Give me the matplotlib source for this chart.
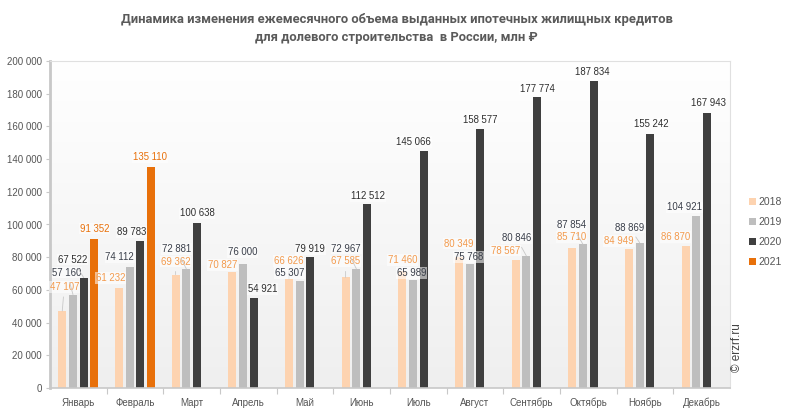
import numpy as np
import matplotlib
matplotlib.use("Agg")
import matplotlib.pyplot as plt
from matplotlib.ticker import FuncFormatter, FixedLocator
from matplotlib.colors import LinearSegmentedColormap
from matplotlib.patches import Patch

months = ["Январь", "Февраль", "Март", "Апрель", "Май", "Июнь", "Июль",
          "Август", "Сентябрь", "Октябрь", "Ноябрь", "Декабрь"]
years = ["2018", "2019", "2020", "2021"]
v2018 = [47107, 61232, 69362, 70827, 66626, 67585, 71460, 80349, 78567, 85710, 84949, 86870]
v2019 = [57160, 74112, 72881, 76000, 65307, 72967, 65989, 75768, 80846, 87854, 88869, 104921]
v2020 = [67522, 89783, 100638, 54921, 79919, 112512, 145066, 158577, 177774, 187834, 155242, 167943]
v2021 = [91352, 135110]
series = [v2018, v2019, v2020, v2021]

# label offsets in pixels (dx, dy) relative to bar top
off2018 = [(2, 24), (-8, 10), (0, 13), (-10, 7), (0, 18), (0, 16), (0, 11), (0, 13), (-10, 9), (-1, 11), (-10, 8), (-10, 9)]
off2019 = [(-6, 22), (-10, 10), (-10, 20), (0, 12), (-10, 8), (-10, 20), (-1, 7), (-1, 7), (-10, 18), (-11, 19), (-10, 15), (-12, 9)]
off2020 = [(-11, 18), (-9, 9), (0, 10), (9, 9), (0, 8), (1, 8), (-10, 9), (0, 9), (0, 8), (-1, 9), (1, 10), (1, 10)]
off2021 = [(0, 10), (-1, 10)]
offsets = [off2018, off2019, off2020, off2021]

bar_colors = ["#fdd3b0", "#bebebe", "#3f3f3f", "#e8700a"]
label_colors = ["#f39a4c", "#3a3f4a", "#2e2e2e", "#e8700a"]

W, H = 793, 415
fig = plt.figure(figsize=(W / 100, H / 100), dpi=100)
ax = fig.add_axes([50 / W, (H - 388) / H, 680 / W, 327 / H])

# gradient background
grad = np.linspace(0, 1, 256).reshape(-1, 1)
cmap = LinearSegmentedColormap.from_list("bg", ["#efefef", "#ffffff"])
ax.imshow(grad, aspect="auto", cmap=cmap, extent=(-0.5, 11.5, 0, 200000),
          origin="lower", zorder=0)

slot = 0.189
bw = 0.141
x = np.arange(len(months))
for j, vals in enumerate(series):
    xs = x[:len(vals)] + (j - 1.5) * slot
    ax.bar(xs, vals, width=bw, color=bar_colors[j], edgecolor="none", zorder=2)

for j, vals in enumerate(series):
    xs = x[:len(vals)] + (j - 1.5) * slot
    for k, (xx, vv) in enumerate(zip(xs, vals)):
        dx, dy = offsets[j][k]
        txt = f"{vv:,}".replace(",", " ")
        arrow = None
        if dy >= 13:
            arrow = dict(arrowstyle="-", color="#c8c8c8", lw=0.6, shrinkA=3, shrinkB=0)
        ax.annotate(txt, xy=(xx, vv), xytext=(dx * 0.72, dy * 0.72), textcoords="offset points",
                    ha="center", va="center", fontsize=6.9, color=label_colors[j],
                    family="Liberation Sans", zorder=5, arrowprops=arrow,
                    bbox=dict(boxstyle="square,pad=0.08", fc="white", ec="none", alpha=0.55))

ax.set_xlim(-0.5, 11.5)
ax.set_ylim(0, 200000)
ax.set_yticks(np.arange(0, 200001, 20000))
ax.yaxis.set_major_formatter(FuncFormatter(lambda v, p: f"{int(v):,}".replace(",", " ")))
ax.set_xticks(x)
ax.set_xticklabels(months)
ax.xaxis.set_minor_locator(FixedLocator(np.arange(0.5, 11.5, 1.0)))
ax.tick_params(axis="x", which="major", length=0, pad=7, labelsize=7, labelcolor="#555555")
ax.tick_params(axis="x", which="minor", length=4, color="#c8c8c8", width=0.8)
ax.tick_params(axis="y", length=3, color="#c8c8c8", labelsize=7, labelcolor="#555555", pad=3)
for lab in ax.get_xticklabels() + ax.get_yticklabels():
    lab.set_family("Liberation Sans")

for side in ["top", "right"]:
    ax.spines[side].set_color("#e0e0e0")
    ax.spines[side].set_linewidth(0.8)
ax.spines["left"].set_color("#c8c8c8")
ax.spines["left"].set_linewidth(2)
ax.spines["bottom"].set_color("#c8c8c8")
ax.spines["bottom"].set_linewidth(1.2)

# legend
handles = [Patch(facecolor=c, edgecolor="none") for c in bar_colors]
leg = fig.legend(handles, years, loc="upper left", bbox_to_anchor=(746 / W, 1 - 194 / H),
                 frameon=False, handlelength=0.65, handleheight=0.65, handletextpad=0.25,
                 labelspacing=0.95, borderaxespad=0, borderpad=0.3,
                 prop=dict(family="Liberation Sans", size=7.5))
for t in leg.get_texts():
    t.set_color("#555555")

fig.text(0.5, 1 - 20 / H, "Динамика изменения ежемесячного объема выданных ипотечных жилищных кредитов",
         ha="center", va="center", fontsize=9.4, fontweight="bold", color="#5a5a5a", family="Roboto")
fig.text(0.5, 1 - 37 / H, "для долевого строительства  в России, млн ₽",
         ha="center", va="center", fontsize=9.4, fontweight="bold", color="#5a5a5a", family="Roboto")
fig.text(737 / W, 1 - 348 / H, "© erzrf.ru", rotation=90, ha="center", va="center",
         fontsize=8.5, color="#444444", family="Liberation Sans")

fig.savefig("out.png", dpi=100)
